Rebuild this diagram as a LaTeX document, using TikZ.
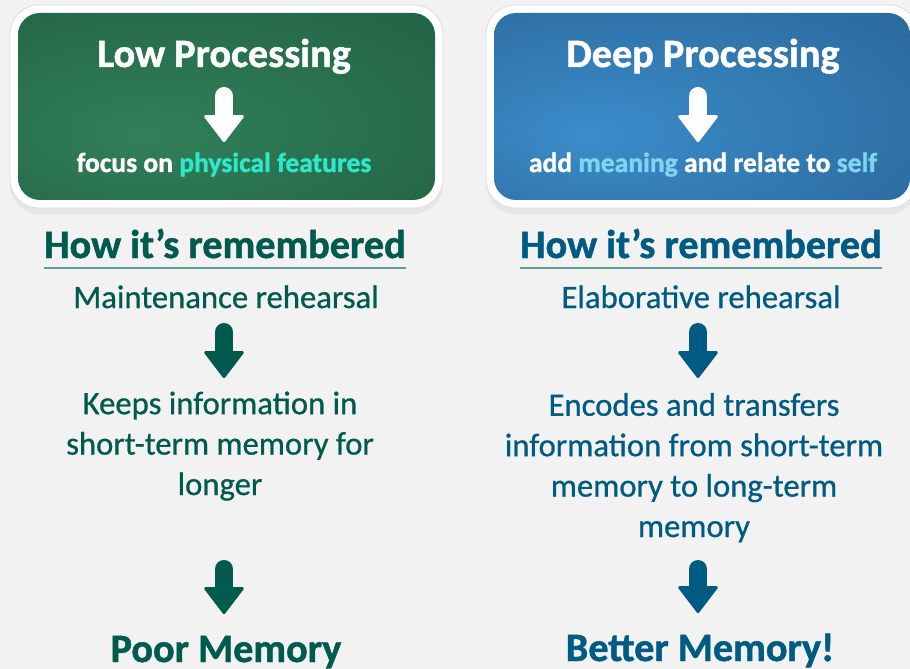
\documentclass[tikz,border=0pt]{standalone}
\usepackage{fontspec}
\setmainfont{Carlito}[BoldFeatures={FakeBold=1.2}]
\newfontfamily\medfont{Carlito}[FakeBold=0.7]
\usepackage{tikz}
\usetikzlibrary{arrows.meta,shadows}

\definecolor{pagegray}{HTML}{F2F2F2}
\definecolor{lowgreen}{HTML}{005A4E}
\definecolor{deepblue}{HTML}{005B82}
\definecolor{greenin}{HTML}{31805A}
\definecolor{greenmid}{HTML}{236445}
\definecolor{greenout}{HTML}{154B36}
\definecolor{bluein}{HTML}{3B8CCA}
\definecolor{bluemid}{HTML}{2C6B9E}
\definecolor{blueout}{HTML}{1C466C}
\definecolor{cyanhl}{HTML}{2EE8C9}
\definecolor{skyhl}{HTML}{7FD4F2}
\definecolor{ruleteal}{HTML}{5E9C98}

\pgfdeclareradialshading{greenglow}{\pgfpoint{-10bp}{-8bp}}{color(0bp)=(greenin); color(40bp)=(greenmid); color(72bp)=(greenout)}
\pgfdeclareradialshading{blueglow}{\pgfpoint{-14bp}{-8bp}}{color(0bp)=(bluein); color(40bp)=(bluemid); color(72bp)=(blueout)}

\begin{document}
\begin{tikzpicture}[
    x=0.02cm, y=-0.02cm,
    frame/.style={fill=white, draw=black!12, line width=0.5pt, rounded corners=0.58cm,
        drop shadow={shadow xshift=0pt, shadow yshift=-0.12cm, opacity=0.1}},
    panel/.style={rounded corners=0.44cm},
    boxtitle/.style={inner sep=0pt, anchor=base, text=white, font=\fontsize{22.9}{27}\selectfont\bfseries},
    boxsub/.style={inner sep=0pt, anchor=base, text=white, font=\fontsize{15.7}{19}\selectfont\bfseries},
    heading/.style={inner sep=0pt, anchor=base, font=\fontsize{22.9}{27}\selectfont\bfseries},
    body/.style={inner sep=0pt, anchor=base, align=center, font=\fontsize{18.6}{23}\selectfont\medfont},
    underline/.style={draw=ruleteal, line width=0.85pt},
    blockarrow/.style={line width=0.36cm, line cap=round,
        -{Triangle[length=0.56cm, width=0.84cm, line width=0.06cm, round]}},
]
    \useasboundingbox[fill=pagegray] (0,0) rectangle (910,669);

    \draw[frame] (10,5) rectangle (443,208);
    \shade[panel, shading=greenglow] (18,13) rectangle (435,200);
    \draw[frame] (486,5) rectangle (918,208);
    \shade[panel, shading=blueglow] (494,13) rectangle (910,200);

    \node[boxtitle] (lowtitle) at (224,67) {Low Processing};
    \node[boxsub] (lowsub) at (224,172) {focus on \textcolor{cyanhl}{physical features}};
    \node[boxtitle] (deeptitle) at (703,67) {Deep Processing};
    \node[boxsub] (deepsub) at (703,172) {add \textcolor{skyhl}{meaning} and relate to \textcolor{skyhl}{self}};

    \draw[blockarrow, white, shorten <=0.58cm, shorten >=0.6cm] (lowtitle.base) -- (lowsub.base);
    \draw[blockarrow, white, shorten <=0.58cm, shorten >=0.6cm] ([xshift=-0.1cm]deeptitle.base) -- ([xshift=-0.1cm]deepsub.base);

    \node[heading, text=lowgreen] (howlow) at (225,258) {How it’s remembered};
    \node[heading, text=deepblue] (howdeep) at (701,258) {How it’s remembered};
    \draw[underline] ([yshift=-0.2cm]howlow.base west) -- ([yshift=-0.2cm]howlow.base east);
    \draw[underline] ([yshift=-0.2cm]howdeep.base west) -- ([yshift=-0.2cm]howdeep.base east);

    \node[body, text=lowgreen] (maint) at (226,308) {Maintenance rehearsal};
    \node[body, text=lowgreen] (keeps) at (220,495) {Keeps information in\\short-term memory for\\longer};
    \node[heading, text=lowgreen] (poor) at (226,662) {Poor Memory};

    \node[body, text=deepblue] (elab) at (701,308) {Elaborative rehearsal};
    \node[body, text=deepblue] (encodes) at (694,537) {Encodes and transfers\\information from short-term\\memory to long-term\\memory};
    \node[heading, text=deepblue] (better) at (700,661) {Better Memory!};

    \draw[blockarrow, lowgreen, shorten <=0.48cm, shorten >=2.34cm] ([xshift=-0.04cm]maint.base) -- ([xshift=-0.04cm]maint.base |- keeps.base);
    \draw[blockarrow, lowgreen, shorten <=1.48cm, shorten >=0.96cm] ([xshift=-0.04cm]poor.base |- keeps.base) -- ([xshift=-0.04cm]poor.base);
    \draw[blockarrow, deepblue, shorten <=0.48cm, shorten >=3.18cm] ([xshift=-0.06cm]elab.base) -- ([xshift=-0.06cm]elab.base |- encodes.base);
    \draw[blockarrow, deepblue, shorten <=0.64cm, shorten >=0.96cm] ([xshift=-0.04cm]better.base |- encodes.base) -- ([xshift=-0.04cm]better.base);
\end{tikzpicture}
\end{document}
